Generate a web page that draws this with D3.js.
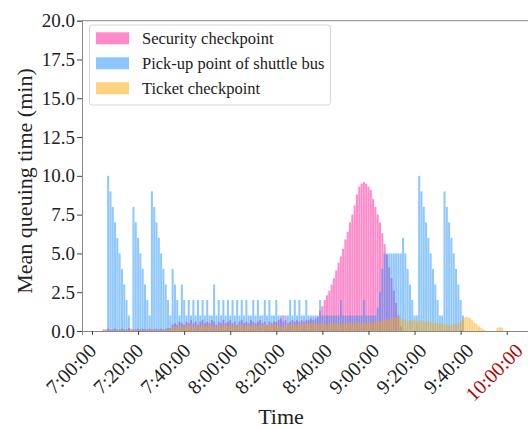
<!DOCTYPE html>
<html>
<head>
<meta charset="utf-8">
<script src="https://cdn.jsdelivr.net/npm/d3@7"></script>
<style>
    body { margin: 0; background: #fff; }
</style>
</head>
<body>
<div id="chart"></div>
<script>
// minutes after 7:00:00, one bar per minute (index = minute)
const securityQueue = [
    0, 0, 0, 0, 0, 0.1, 0.1, 0.15, 0.1, 0.1,
    0.15, 0.1, 0.1, 0.15, 0.1, 0.1, 0.2, 0.15, 0.1, 0.1,
    0.15, 0.1, 0.15, 0.1, 0.1, 0.15, 0.1, 0.1, 0.15, 0.1,
    0.15, 0.1, 0.15, 0.2, 0.2, 0.4, 0.5, 0.4, 0.6, 0.5,
    0.4, 0.6, 0.5, 0.7, 0.5, 0.6, 0.4, 0.6, 0.7, 0.5,
    0.6, 0.5, 0.7, 0.6, 0.4, 0.6, 0.5, 0.7, 0.5, 0.6,
    0.7, 0.5, 0.6, 0.4, 0.6, 0.7, 0.5, 0.6, 0.5, 0.7,
    0.6, 0.5, 0.6, 0.7, 0.5, 0.6, 0.4, 0.6, 0.5, 0.6,
    0.6, 0.7, 0.8, 1.0, 0.7, 0.5, 0.6, 0.7, 0.6, 0.7,
    0.6, 0.7, 0.6, 0.7, 0.7, 0.8, 0.7, 0.8, 0.9, 1.3,
    1.6, 2.0, 2.3, 2.6, 3.0, 3.4, 3.9, 4.4, 4.8, 5.3,
    5.9, 6.4, 7.0, 7.5, 8.1, 8.8, 9.3, 9.5, 9.6, 9.5,
    9.3, 9.1, 8.5, 8.0, 7.5, 7.0, 6.3, 5.6, 4.9, 4.1,
    3.4, 2.6, 1.8, 1.0, 0.3, 0, 0, 0, 0, 0,
    0, 0, 0, 0, 0, 0, 0, 0, 0, 0,
    0, 0, 0, 0, 0, 0, 0, 0, 0, 0,
    0, 0, 0, 0, 0, 0, 0, 0, 0, 0,
    0, 0, 0, 0, 0, 0, 0, 0, 0, 0,
    0
];

const shuttleQueue = [
    0, 0, 0, 0, 0, 0, 0, 10, 9, 8,
    7, 6, 5, 4, 3, 2, 1, 0, 8, 7,
    6, 5, 4, 3, 2, 1, 9, 8, 7, 6,
    5, 4, 3, 2, 1, 4, 3, 2, 1, 3,
    2, 1, 2, 1, 2, 1, 2, 1, 2, 1,
    2, 1, 1, 3, 1, 2, 1, 2, 1, 2,
    1, 2, 1, 2, 1, 2, 1, 2, 1, 1,
    2, 1, 2, 1, 1, 2, 1, 2, 1, 1,
    2, 1, 1, 0.6, 1, 1, 2, 1, 2, 1,
    2, 1, 1, 2, 1, 1, 1, 1, 1, 2,
    1, 1, 1, 1, 1, 1, 1, 1, 2, 1,
    1, 1, 1, 1, 1, 1, 1, 1, 2, 1,
    1, 1, 1, 1, 1.5, 2.5, 4, 5, 5, 5,
    5, 5, 5, 5, 5, 6, 5, 4, 3, 2,
    1, 1, 10, 9, 8, 7, 6, 5, 4, 3,
    2, 1, 1, 9, 8, 7, 6, 5, 4, 3,
    2, 1, 0, 0, 0, 0, 0, 0, 0, 0,
    0, 0, 0, 0, 0, 0, 0, 0, 0, 0,
    0
];

const ticketQueue = [
    0, 0, 0, 0, 0, 0.05, 0.05, 0.05, 0.05, 0.05,
    0.05, 0.05, 0.05, 0.05, 0.05, 0.05, 0.05, 0.05, 0.05, 0.05,
    0.05, 0.05, 0.05, 0.05, 0.05, 0.05, 0.05, 0.05, 0.05, 0.05,
    0.05, 0.05, 0.05, 0.1, 0.15, 0.2, 0.3, 0.25, 0.35, 0.3,
    0.25, 0.35, 0.3, 0.4, 0.3, 0.25, 0.35, 0.3, 0.4, 0.35,
    0.3, 0.4, 0.35, 0.3, 0.25, 0.35, 0.4, 0.3, 0.35, 0.3,
    0.35, 0.3, 0.4, 0.35, 0.3, 0.4, 0.35, 0.3, 0.4, 0.35,
    0.4, 0.35, 0.3, 0.4, 0.35, 0.45, 0.4, 0.35, 0.4, 0.45,
    0.4, 0.35, 0.3, 0.2, 0.4, 0.45, 0.4, 0.35, 0.45, 0.4,
    0.45, 0.4, 0.5, 0.45, 0.4, 0.5, 0.45, 0.5, 0.4, 0.45,
    0.5, 0.45, 0.4, 0.5, 0.45, 0.55, 0.5, 0.4, 0.45, 0.5,
    0.45, 0.5, 0.55, 0.45, 0.5, 0.6, 0.5, 0.45, 0.55, 0.5,
    0.6, 0.55, 0.5, 0.6, 0.7, 0.6, 0.65, 0.7, 0.75, 0.7,
    0.8, 0.9, 0.85, 0.9, 0.8, 0.7, 0.75, 0.6, 0.7, 0.65,
    0.7, 0.6, 0.65, 0.7, 0.6, 0.55, 0.65, 0.6, 0.5, 0.55,
    0.5, 0.45, 0.5, 0.4, 0.45, 0.35, 0.4, 0.45, 0.4, 0.5,
    0.6, 0.8, 0.9, 0.9, 0.85, 0.7, 0.55, 0.45, 0.3, 0.2,
    0.1, 0, 0, 0, 0, 0, 0.2, 0.25, 0.2, 0,
    0
];

const seriesNames = ["Security checkpoint", "Pick-up point of shuttle bus", "Ticket checkpoint"];
const seriesColors = ["deeppink", "dodgerblue", "orange"];
const xTickMinutes = [0, 20, 40, 60, 80, 100, 120, 140, 160, 180];
const xTickLabels = ["7:00:00", "7:20:00", "7:40:00", "8:00:00", "8:20:00",
    "8:40:00", "9:00:00", "9:20:00", "9:40:00", "10:00:00"];
const yTicks = [0, 2.5, 5, 7.5, 10, 12.5, 15, 17.5, 20];

const serif = "'Liberation Serif', Tinos, 'Times New Roman', 'DejaVu Serif', serif";
const width = 528, height = 429;
const svg = d3.select("#chart").append("svg")
    .attr("width", width)
    .attr("height", height)
    .style("font-family", serif);

const x = d3.scaleLinear().domain([-4.34, 200]).range([82, 552.8]);
const y = d3.scaleLinear().domain([0, 20]).range([331, 20.7]);
const step = x(1) - x(0);

// bars, drawn in legend order with transparency
const allSeries = [securityQueue, shuttleQueue, ticketQueue];
allSeries.forEach((values, k) => {
    svg.append("g")
        .selectAll("rect")
        .data(values)
        .join("rect")
        .attr("x", (d, i) => x(i - 0.5) + 0.15)
        .attr("width", step - 0.3)
        .attr("y", d => y(d))
        .attr("height", d => y(0) - y(d))
        .attr("fill", seriesColors[k])
        .attr("fill-opacity", 0.5);
});

// frame (right side runs off the page)
svg.append("line").attr("x1", 82).attr("x2", width).attr("y1", y(20)).attr("y2", y(20))
    .attr("stroke", "#888").attr("stroke-width", 1);

const yAxis = svg.append("g")
    .attr("transform", "translate(82,0)")
    .call(d3.axisLeft(y).tickValues(yTicks).tickFormat(d3.format(".1f")).tickSize(5).tickPadding(2));
yAxis.attr("font-family", null).attr("font-size", null);
yAxis.select(".domain").attr("stroke", "#888");
yAxis.selectAll(".tick line").attr("stroke", "#444");
yAxis.selectAll("text").style("font-size", "19px").attr("fill", "#222");

// tick labels drift a little to the right along the axis, as in the source
const labelShift = i => 5 + i * 1.1 + (i === xTickLabels.length - 1 ? 2 : 0);

const xAxis = svg.append("g")
    .attr("transform", `translate(0,${y(0)})`)
    .call(d3.axisBottom(x).tickValues(xTickMinutes).tickFormat((d, i) => xTickLabels[i]).tickSize(4));
xAxis.attr("font-family", null).attr("font-size", null);
xAxis.select(".domain").attr("stroke", "#888");
xAxis.selectAll(".tick line").attr("stroke", "#444");
xAxis.selectAll("text")
    .style("font-size", "20px")
    .attr("fill", (d, i) => i === xTickLabels.length - 1 ? "#b30000" : "#222")
    .attr("text-anchor", "end")
    .attr("x", 0).attr("y", 0).attr("dy", null)
    .attr("transform", (d, i) => `translate(${labelShift(i)},21) rotate(-45)`);

// axis titles
svg.append("text")
    .attr("transform", `translate(32,181) rotate(-90)`)
    .attr("text-anchor", "middle")
    .style("font-size", "22px")
    .attr("fill", "#222")
    .text("Mean queuing time (min)");

svg.append("text")
    .attr("x", 281).attr("y", 424)
    .attr("text-anchor", "middle")
    .style("font-size", "22px")
    .attr("fill", "#222")
    .text("Time");

// legend
const legend = svg.append("g");
legend.append("rect")
    .attr("x", 89.5).attr("y", 25).attr("width", 241).attr("height", 80)
    .attr("rx", 3)
    .attr("fill", "#fff").attr("fill-opacity", 0.8)
    .attr("stroke", "#d6d6d6");
seriesNames.forEach((name, k) => {
    const cy = 38.3 + k * 25;
    legend.append("rect")
        .attr("x", 96).attr("y", cy - 6).attr("width", 33).attr("height", 12)
        .attr("fill", seriesColors[k]).attr("fill-opacity", 0.5);
    legend.append("text")
        .attr("x", 142).attr("y", cy).attr("dy", "0.35em")
        .style("font-size", "16.5px")
        .attr("fill", "#222")
        .text(name);
});
</script>
</body>
</html>
